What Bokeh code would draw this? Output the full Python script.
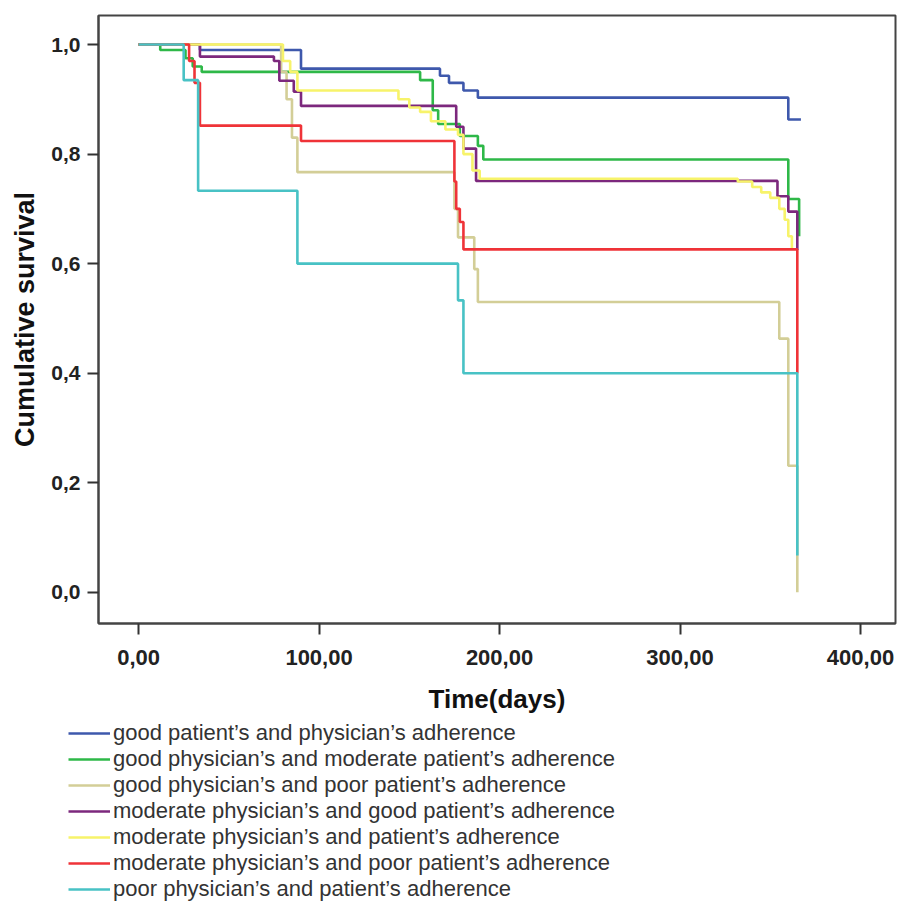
from bokeh.plotting import figure
from bokeh.models import Range1d, FixedTicker, CustomJSTickFormatter, Legend, LegendItem
from bokeh.embed import file_html
from bokeh.resources import INLINE

# ---- data (Kaplan-Meier step curves) ----
labels = [
    "good patient\u2019s and physician\u2019s adherence",
    "good physician\u2019s and moderate patient\u2019s adherence",
    "good physician\u2019s and poor patient\u2019s adherence",
    "moderate physician\u2019s and good patient\u2019s adherence",
    "moderate physician\u2019s and patient\u2019s adherence",
    "moderate physician\u2019s and poor patient\u2019s adherence",
    "poor physician\u2019s and patient\u2019s adherence",
]
colors = ["#3e58ac", "#2eb848", "#d3ce97", "#7c287d", "#f7f36a", "#ef3338", "#48c2c5"]

good_good_t = [0, 34, 90, 167, 172, 180, 188, 360, 367]
good_good_s = [1.0, 0.99, 0.956, 0.943, 0.93, 0.916, 0.903, 0.863, 0.863]

good_mod_t = [0, 12, 26, 30, 35, 156, 163, 166, 178, 188, 191, 360, 366]
good_mod_s = [1.0, 0.99, 0.975, 0.96, 0.95, 0.935, 0.88, 0.855, 0.833, 0.815, 0.79, 0.718, 0.65]

good_poor_t = [0, 79, 82, 85, 88, 175, 177, 186, 188, 355, 360, 365]
good_poor_s = [1.0, 0.95, 0.9, 0.83, 0.767, 0.70, 0.648, 0.59, 0.53, 0.463, 0.231, 0.0]

mod_good_t = [0, 34, 75, 78, 86, 90, 176, 180, 187, 354, 360, 365]
mod_good_s = [1.0, 0.978, 0.97, 0.934, 0.914, 0.888, 0.85, 0.81, 0.751, 0.723, 0.695, 0.625]

mod_mod_t = [0, 80, 84, 88, 144, 150, 156, 162, 170, 177, 180, 185, 189, 332, 340, 345, 350, 355, 358, 360, 362]
mod_mod_s = [1.0, 0.97, 0.95, 0.916, 0.90, 0.885, 0.877, 0.86, 0.845, 0.835, 0.80, 0.77, 0.755, 0.75, 0.74, 0.73, 0.72, 0.70, 0.68, 0.65, 0.626]

mod_poor_t = [0, 28, 31, 34, 90, 175, 176, 178, 180, 365]
mod_poor_s = [1.0, 0.97, 0.93, 0.852, 0.824, 0.75, 0.70, 0.676, 0.626, 0.40]

poor_poor_t = [0, 25, 33, 88, 177, 180, 365]
poor_poor_s = [1.0, 0.935, 0.733, 0.60, 0.533, 0.40, 0.067]

times = [good_good_t, good_mod_t, good_poor_t, mod_good_t, mod_mod_t, mod_poor_t, poor_poor_t]
survs = [good_good_s, good_mod_s, good_poor_s, mod_good_s, mod_mod_s, mod_poor_s, poor_poor_s]

x_ticks = [0, 100, 200, 300, 400]
y_ticks = [0.0, 0.2, 0.4, 0.6, 0.8, 1.0]

# ---- main figure ----
p = figure(frame_width=797, frame_height=608,
           x_range=Range1d(-22.2, 419.4), y_range=Range1d(-0.057, 1.053),
           output_backend="svg", toolbar_location=None,
           min_border_left=98, min_border_top=15, min_border_right=2, min_border_bottom=4)
p.background_fill_color = "white"
p.border_fill_color = "white"
p.outline_line_color = "#444444"
p.outline_line_width = 2
p.xgrid.visible = False
p.ygrid.visible = False

for t, s, c in zip(times, survs, colors):
    p.step(t, s, mode="after", line_color=c, line_width=2.6)

p.xaxis.ticker = FixedTicker(ticks=x_ticks)
p.yaxis.ticker = FixedTicker(ticks=y_ticks)
p.xaxis.formatter = CustomJSTickFormatter(code="return tick.toFixed(2).replace('.', ',');")
p.yaxis.formatter = CustomJSTickFormatter(code="return tick.toFixed(1).replace('.', ',');")
for ax in (p.xaxis[0], p.yaxis[0]):
    ax.axis_line_color = "#444444"
    ax.axis_line_width = 2
    ax.major_tick_line_color = "#333333"
    ax.major_tick_line_width = 2
    ax.major_tick_out = 11
    ax.major_tick_in = 0
    ax.minor_tick_line_color = None
    ax.major_label_text_font = "Liberation Sans"
    ax.major_label_text_font_style = "bold"
    ax.major_label_text_color = "#222222"
    ax.axis_label_text_font = "Liberation Sans"
    ax.axis_label_text_font_style = "bold"
    ax.axis_label_text_color = "#111111"

p.xaxis.major_label_text_font_size = "22px"
p.yaxis.major_label_text_font_size = "21px"
p.xaxis.axis_label = "Time(days)"
p.yaxis.axis_label = "Cumulative survival"
p.xaxis.axis_label_text_font_size = "26px"
p.yaxis.axis_label_text_font_size = "27px"
p.xaxis.major_label_standoff = 15
p.yaxis.major_label_standoff = 7
p.xaxis.axis_label_standoff = 16
p.yaxis.axis_label_standoff = 8

# ---- legend strip (same series, drawn outside its visible range; only the legend shows) ----
lg = figure(width=897, height=188, x_range=Range1d(1000, 1001), y_range=Range1d(5, 6),
            output_backend="svg", toolbar_location=None,
            x_axis_location=None, y_axis_location=None,
            min_border=0, min_border_left=0, min_border_right=0,
            min_border_top=0, min_border_bottom=0)
lg.outline_line_color = None
lg.grid.visible = False
lg.background_fill_color = "white"
lg.border_fill_color = "white"

leg_renderers = []
for t, s, c in zip(times, survs, colors):
    leg_renderers.append(lg.step(t, s, mode="after", line_color=c, line_width=2.6))

items = [LegendItem(label=lab, renderers=[r]) for lab, r in zip(labels, leg_renderers)]
legend = Legend(items=items, location=(68, 2), orientation="vertical",
                label_text_font="Liberation Sans", label_text_font_size="22px",
                label_text_color="#333333", label_height=26, glyph_height=26,
                glyph_width=42, label_standoff=3, spacing=0, padding=0, margin=0,
                border_line_color=None, background_fill_alpha=0)
lg.add_layout(legend, "center")

open("out.html", "w").write(file_html([p, lg], INLINE))
